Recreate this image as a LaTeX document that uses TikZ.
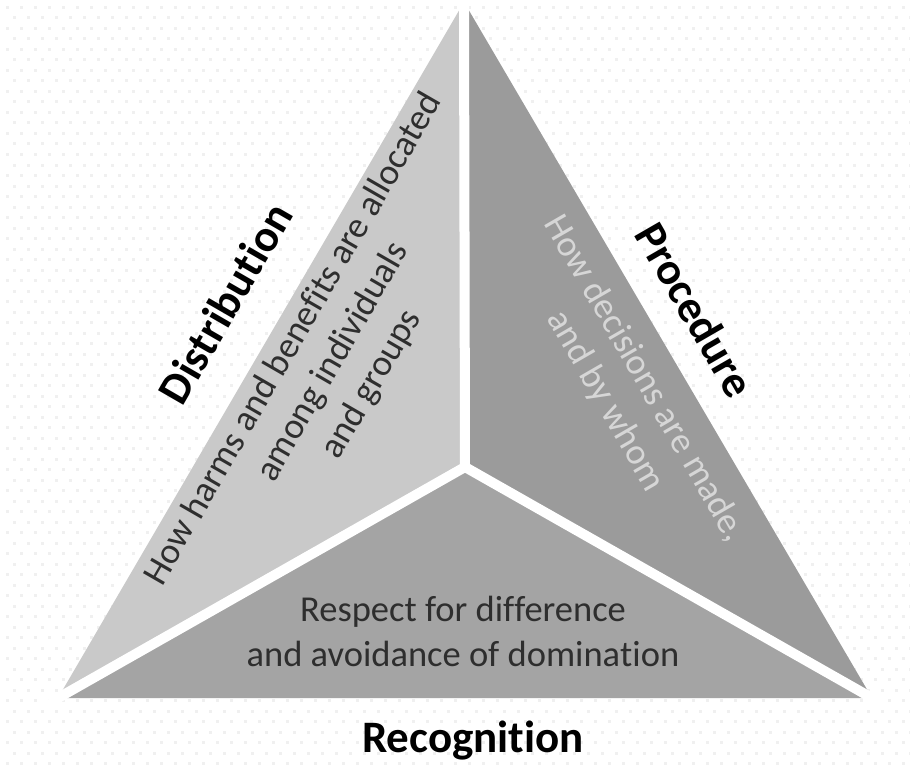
\documentclass[tikz,border=0pt]{standalone}
\usepackage{fontspec}
\setmainfont{Carlito}[Ligatures={NoCommon,NoContextual}]
\newcommand{\nolig}{\kern0pt }
\definecolor{distfill}{HTML}{C9C9C9}
\definecolor{procfill}{HTML}{9B9B9B}
\definecolor{recfill}{HTML}{A4A4A4}
\definecolor{bodytext}{HTML}{2E2E2E}
\definecolor{proctext}{HTML}{D6D6D6}
\definecolor{bgdot}{HTML}{F0F0F0}
\tikzset{
  sep/.style={white, line width=10pt, line cap=round},
  label/.style={inner sep=0pt, font=\bfseries\fontsize{45}{50}\selectfont, text=black},
  body/.style={inner sep=0pt, align=center, font=\fontsize{36.5}{45}\selectfont, text=bodytext}
}
\begin{document}
\begin{tikzpicture}[x=1pt,y=-1pt]
\useasboundingbox (0,0) rectangle (910,765);
\fill[white] (0,0) rectangle (910,765);
% faint dotted background
\foreach \r in {0,...,36}{
  \foreach \c in {0,...,65}{
    \fill[bgdot] ({\c*14+6},{\r*21+6}) rectangle +(3,3);
    \fill[bgdot] ({\c*14+13},{\r*21+16.5}) rectangle +(3,3);
  }
}
\coordinate (A) at (464,2);
\coordinate (L) at (58,698);
\coordinate (R) at (872,698);
\coordinate (C) at (465,467);
\fill[distfill] (A) -- (C) -- (L) -- cycle;
\fill[procfill] (A) -- (C) -- (R) -- cycle;
\fill[recfill] (L) -- (C) -- (R) -- cycle;
\draw[sep, shorten >=-6pt] (C) -- (A);
\draw[sep, shorten >=-6pt] (C) -- (L);
\draw[sep, shorten >=-6pt] (C) -- (R);
% labels
\node[label, rotate=60] (distlabel) at (225,303) {Distribu\nolig tion};
\node[label, rotate=-60] (proclabel) at (695,310) {Procedure};
\node[label, anchor=base] (reclabel) at (473,752) {Recogni\nolig tion};
% bodies
\node[body, rotate=60] (distbody) at (333,362) {How harms and benef\nolig i\nolig ts are allocated\\among individuals\\and groups};
\node[body, rotate=-60, text=proctext] (procbody) at (625,390) {How decisions are made,\\and by whom};
\node[body] (recbody) at (463,631) {Respect for dif\nolig ference\\and avoidance of domina\nolig tion};
\end{tikzpicture}
\end{document}
